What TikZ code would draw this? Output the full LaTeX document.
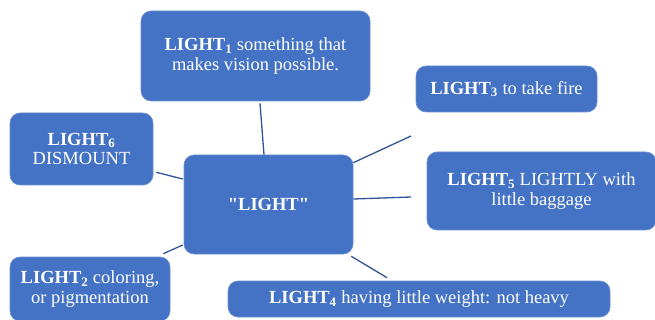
\documentclass[tikz,border=0pt]{standalone}
\usepackage{fontspec}
\setmainfont{Liberation Serif}
\newfontfamily\plainserif{Liberation Serif}
\usetikzlibrary{calc}
\definecolor{boxblue}{HTML}{4472C4}
\definecolor{edgeblue}{HTML}{6A8FD3}
\definecolor{lineblue}{HTML}{2F5597}
\begin{document}
\begin{tikzpicture}[x=1pt,y=-1pt,
  box/.style={fill=boxblue, draw=edgeblue, line width=0.6pt, rounded corners=10pt,
    text=white, align=center, inner sep=0pt, font=\fontsize{18.5}{19.5}\selectfont},
  link/.style={draw=lineblue, line width=1.3pt}]
\useasboundingbox (0,0) rectangle (655,320);
\node[box, minimum width=229pt, minimum height=90pt] (l1) at (255.5,56) {\textbf{LIGHT\textsubscript{1}} something that\\makes vision possible.};
\node[box, minimum width=181pt, minimum height=46pt] (l3) at (506.5,89) {\textbf{LIGHT\textsubscript{3}} to take fire};
\node[box, minimum width=229pt, minimum height=78pt] (l5) at (541.5,191) {\textbf{LIGHT\textsubscript{5}} LIGHTLY with\\little baggage};
\node[box, minimum width=143pt, minimum height=72pt] (l6) at (81.5,149) {\textbf{LIGHT\textsubscript{6}}\\DISMOUNT};
\node[box, minimum width=169pt, minimum height=99pt] (c) at (268.5,204.5) {{\plainserif\bfseries "LIGHT"}};
\node[box, minimum width=160pt, minimum height=64pt] (l2) at (90,289) {\textbf{LIGHT\textsubscript{2}} coloring,\\or pigmentation};
\node[box, minimum width=382pt, minimum height=36pt] (l4) at (419,299) {\textbf{LIGHT\textsubscript{4}} having little weight: not heavy};
\coordinate (e3) at (411,136);
\coordinate (e5) at (411,197);
\draw[link] ($(l1.south)+(4.5,2)$) -- ($(c.north)+(-4.5,0)$);
\draw[link] ($(c.north east)+(0,8)$) -- (e3);
\draw[link] ($(c.east)+(0,-5.5)$) -- (e5);
\draw[link] ($(l6.south east)+(3,-13)$) -- ($(c.west)+(-1,-25.5)$);
\draw[link] ($(l2.north east)+(-7,-3)$) -- ($(c.west)+(-1,40.5)$);
\draw[link] ($(c.south east)+(-2,2)$) -- ($(l4.north)+(-32,-3)$);
\end{tikzpicture}
\end{document}
